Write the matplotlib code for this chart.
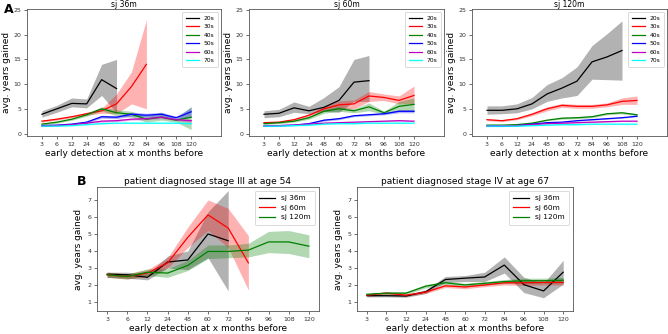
import matplotlib
matplotlib.use("Agg")
import matplotlib.pyplot as plt
import numpy as np

months = ["3", "6", "12", "24", "48", "60", "72", "84", "96", "108", "120"]
groups = ["20s", "30s", "40s", "50s", "60s", "70s"]
group_colors = ["black", "red", "green", "blue", "m", "cyan"]

# ---- Panel A: sj 36m ----
a36_mean = {
    "20s": [3.9, 5.0, 6.1, 6.0, 10.9, 9.1],
    "30s": [2.5, 2.9, 3.4, 4.0, 4.6, 6.0, 9.5, 14.0],
    "40s": [1.9, 2.3, 2.9, 3.8, 5.0, 4.2, 3.9, 2.9, 3.3, 2.7, 3.3],
    "50s": [1.6, 1.7, 1.9, 2.3, 3.4, 3.3, 3.9, 3.7, 3.9, 3.2, 4.4],
    "60s": [1.5, 1.6, 1.8, 2.1, 2.5, 2.6, 2.9, 3.0, 3.3, 2.8, 2.6],
    "70s": [1.5, 1.5, 1.6, 1.8, 2.0, 2.1, 2.1, 2.1, 2.1, 2.1, 2.0],
}
a36_low = {
    "20s": [3.3, 4.3, 5.4, 5.2, 7.7, 4.2],
    "30s": [2.3, 2.7, 3.2, 3.7, 4.1, 4.0, 6.0, 5.0],
    "40s": [1.7, 2.1, 2.7, 3.5, 4.6, 3.6, 3.3, 2.3, 2.7, 2.3, 0.8],
    "50s": [1.5, 1.6, 1.8, 2.1, 3.1, 3.0, 3.5, 3.3, 3.5, 2.9, 3.3],
    "60s": [1.4, 1.5, 1.7, 2.0, 2.3, 2.4, 2.7, 2.8, 3.0, 2.6, 2.3],
    "70s": [1.4, 1.4, 1.5, 1.7, 1.9, 2.0, 2.0, 2.0, 2.0, 2.0, 1.9],
}
a36_high = {
    "20s": [4.6, 5.7, 7.2, 7.0, 14.0, 15.0],
    "30s": [2.7, 3.1, 3.6, 4.3, 5.1, 8.0, 12.5, 23.0],
    "40s": [2.1, 2.5, 3.1, 4.1, 5.4, 4.8, 4.5, 3.6, 4.3, 3.0, 5.5],
    "50s": [1.7, 1.8, 2.0, 2.5, 3.7, 3.6, 4.3, 4.1, 4.3, 3.5, 5.3],
    "60s": [1.6, 1.7, 1.9, 2.2, 2.7, 2.8, 3.1, 3.2, 3.6, 3.0, 2.9],
    "70s": [1.6, 1.6, 1.7, 1.9, 2.1, 2.2, 2.2, 2.2, 2.2, 2.2, 2.1],
}

# ---- Panel A: sj 60m ----
a60_mean = {
    "20s": [3.9, 4.1, 5.2, 4.6, 5.3, 6.7, 10.4, 10.7],
    "30s": [2.2, 2.3, 2.8, 3.7, 5.0, 5.8, 6.0, 7.6, 7.3, 6.7, 7.7],
    "40s": [2.0, 2.2, 2.5, 3.2, 4.5, 5.0, 4.6, 5.4, 4.2, 5.5, 5.9],
    "50s": [1.5, 1.6, 1.7, 2.0, 2.7, 3.0, 3.6, 3.8, 4.0, 4.5, 4.5],
    "60s": [1.6, 1.6, 1.7, 1.9, 2.1, 2.2, 2.3, 2.4, 2.5, 2.6, 2.5],
    "70s": [1.5, 1.5, 1.6, 1.7, 1.9, 2.0, 2.0, 2.1, 2.1, 2.1, 2.1],
}
a60_low = {
    "20s": [3.2, 3.4, 4.3, 4.0, 4.5, 4.3, 6.5, 6.5],
    "30s": [2.0, 2.1, 2.6, 3.4, 4.6, 5.0, 5.0, 6.5, 6.7, 6.0, 6.0],
    "40s": [1.8, 2.0, 2.3, 2.9, 4.1, 4.5, 4.2, 4.6, 3.9, 4.5, 4.5],
    "50s": [1.4, 1.5, 1.6, 1.9, 2.5, 2.8, 3.4, 3.6, 3.8, 4.2, 4.2],
    "60s": [1.5, 1.5, 1.6, 1.8, 2.0, 2.1, 2.2, 2.3, 2.4, 2.5, 2.4],
    "70s": [1.4, 1.4, 1.5, 1.6, 1.8, 1.9, 1.9, 2.0, 2.0, 2.0, 2.0],
}
a60_high = {
    "20s": [4.6, 4.9, 6.4, 5.5, 7.3, 9.5, 15.0, 15.8],
    "30s": [2.4, 2.5, 3.0, 4.0, 5.4, 6.6, 6.8, 8.5, 8.0, 7.6, 9.6],
    "40s": [2.2, 2.4, 2.7, 3.5, 4.9, 5.5, 5.0, 6.2, 4.5, 6.5, 7.2],
    "50s": [1.6, 1.7, 1.8, 2.1, 2.9, 3.2, 3.8, 4.0, 4.2, 4.8, 4.8],
    "60s": [1.7, 1.7, 1.8, 2.0, 2.2, 2.3, 2.4, 2.5, 2.6, 2.7, 2.6],
    "70s": [1.6, 1.6, 1.7, 1.8, 2.0, 2.1, 2.1, 2.2, 2.2, 2.2, 2.2],
}

# ---- Panel A: sj 120m ----
a120_mean = {
    "20s": [4.7, 4.7, 5.0, 6.0, 8.0, 9.2, 10.6, 14.5, 15.5, 16.8],
    "30s": [2.8, 2.6, 3.0, 3.9, 5.0, 5.7, 5.5, 5.5, 5.8, 6.5, 6.7],
    "40s": [1.7, 1.7, 1.8, 2.1, 2.7, 3.1, 3.2, 3.4, 4.0, 4.2, 3.8],
    "50s": [1.5, 1.5, 1.6, 1.9, 2.2, 2.3, 2.6, 2.8, 3.0, 3.2, 3.5],
    "60s": [1.5, 1.6, 1.6, 1.8, 2.0, 2.1, 2.2, 2.3, 2.4, 2.5, 2.5],
    "70s": [1.5, 1.5, 1.5, 1.6, 1.7, 1.8, 1.8, 1.9, 1.9, 1.9, 1.9],
}
a120_low = {
    "20s": [3.9, 4.0, 4.2, 5.0, 6.5, 7.2, 7.7, 11.0, 10.9, 10.8],
    "30s": [2.6, 2.4, 2.8, 3.6, 4.6, 5.3, 5.1, 5.1, 5.4, 5.9, 5.9],
    "40s": [1.6, 1.6, 1.7, 2.0, 2.6, 2.9, 3.0, 3.2, 3.8, 4.0, 3.6],
    "50s": [1.4, 1.4, 1.5, 1.8, 2.1, 2.2, 2.5, 2.7, 2.9, 3.1, 3.4],
    "60s": [1.4, 1.5, 1.5, 1.7, 1.9, 2.0, 2.1, 2.2, 2.3, 2.4, 2.4],
    "70s": [1.4, 1.4, 1.4, 1.5, 1.6, 1.7, 1.7, 1.8, 1.8, 1.8, 1.8],
}
a120_high = {
    "20s": [5.6, 5.6, 6.0, 7.3, 9.9, 11.3, 13.5, 17.8, 20.2, 22.8],
    "30s": [3.0, 2.8, 3.2, 4.2, 5.4, 6.1, 5.9, 5.9, 6.2, 7.2, 7.6],
    "40s": [1.8, 1.8, 1.9, 2.2, 2.8, 3.3, 3.4, 3.6, 4.2, 4.4, 4.0],
    "50s": [1.6, 1.6, 1.7, 2.0, 2.3, 2.4, 2.7, 2.9, 3.1, 3.3, 3.6],
    "60s": [1.6, 1.7, 1.7, 1.9, 2.1, 2.2, 2.3, 2.4, 2.5, 2.6, 2.6],
    "70s": [1.6, 1.6, 1.6, 1.7, 1.8, 1.9, 1.9, 2.0, 2.0, 2.0, 2.0],
}

# ---- Panel B ----
sj_labels = ["sj 36m", "sj 60m", "sj 120m"]
sj_colors = ["black", "red", "green"]

b3_mean = {
    "sj 36m": [2.63, 2.6, 2.45, 3.35, 3.47, 5.0, 4.6],
    "sj 60m": [2.6, 2.5, 2.7, 3.3, 4.8, 6.12, 5.35, 3.3],
    "sj 120m": [2.6, 2.5, 2.75, 2.7, 3.15, 3.97, 3.97, 4.05, 4.53, 4.53, 4.28],
}
b3_low = {
    "sj 36m": [2.45, 2.4, 2.3, 3.0, 2.9, 3.6, 1.65],
    "sj 60m": [2.45, 2.35, 2.5, 3.0, 4.2, 5.2, 4.2, 1.7],
    "sj 120m": [2.45, 2.35, 2.55, 2.45, 2.85, 3.55, 3.6, 3.65, 3.9, 3.85, 3.6],
}
b3_high = {
    "sj 36m": [2.75, 2.75, 2.65, 3.7, 4.0, 6.3, 7.55],
    "sj 60m": [2.75, 2.65, 2.9, 3.6, 5.4, 7.0, 6.5, 4.9],
    "sj 120m": [2.75, 2.65, 2.95, 2.95, 3.45, 4.35, 4.35, 4.45, 5.15, 5.2, 4.95],
}

b4_mean = {
    "sj 36m": [1.37, 1.37, 1.35, 1.6, 2.32, 2.4, 2.47, 3.17, 2.02, 1.65, 2.75],
    "sj 60m": [1.4, 1.52, 1.4, 1.58, 1.95, 1.88, 2.0, 2.13, 2.13, 2.15, 2.15],
    "sj 120m": [1.45, 1.52, 1.52, 1.93, 2.13, 2.0, 2.1, 2.2, 2.25, 2.25, 2.28],
}
b4_low = {
    "sj 36m": [1.3, 1.3, 1.28, 1.5, 2.15, 2.2, 2.2, 2.7, 1.55, 1.25, 2.05],
    "sj 60m": [1.33, 1.43, 1.33, 1.5, 1.85, 1.78, 1.9, 2.0, 1.98, 2.0, 2.0],
    "sj 120m": [1.38, 1.44, 1.44, 1.83, 2.03, 1.9, 2.0, 2.08, 2.1, 2.1, 2.12],
}
b4_high = {
    "sj 36m": [1.45, 1.45, 1.43, 1.72, 2.5, 2.55, 2.75, 3.65, 2.45, 2.1, 3.45],
    "sj 60m": [1.48, 1.6, 1.48, 1.68, 2.05, 1.98, 2.1, 2.25, 2.28, 2.3, 2.3],
    "sj 120m": [1.52, 1.6, 1.6, 2.03, 2.23, 2.1, 2.2, 2.32, 2.4, 2.4, 2.45],
}

W, H = 668, 334
fig = plt.figure(figsize=(W / 100, H / 100), dpi=100)


def px_axes(l, t, r, b):
    return fig.add_axes([l / W, 1 - b / H, (r - l) / W, (b - t) / H])


def draw_panel(ax, labels, colors, mean, low, high, lw=0.9, alpha=0.3):
    for lab, c in zip(labels, colors):
        n = len(mean[lab])
        x = np.arange(n)
        ax.fill_between(x, low[lab], high[lab], color=c, alpha=alpha, lw=0)
        ax.plot(x, mean[lab], color=c, lw=lw, label=lab)
    ax.set_xticks(np.arange(len(months)))
    ax.set_xticklabels(months)
    ax.tick_params(labelsize=4.5, length=2, width=0.5, pad=2, colors="#333333")
    for s in ax.spines.values():
        s.set_linewidth(0.6)
        s.set_color("#555555")


top_panels = [
    ("sj 36m", a36_mean, a36_low, a36_high, (27, 9, 221, 136)),
    ("sj 60m", a60_mean, a60_low, a60_high, (249, 9, 444, 136)),
    ("sj 120m", a120_mean, a120_low, a120_high, (472, 9, 667, 136)),
]
for title, m, lo, hi, box in top_panels:
    ax = px_axes(*box)
    draw_panel(ax, groups, group_colors, m, lo, hi)
    ax.set_xlim(-1, 12)
    ax.set_ylim(-0.5, 25.2)
    ax.set_yticks([0, 5, 10, 15, 20, 25])
    ax.set_title(title, fontsize=5.5, pad=1.5)
    ax.set_xlabel("early detection at x months before", fontsize=6.5, labelpad=1.5)
    ax.set_ylabel("avg. years gained", fontsize=6.5, labelpad=2)
    leg = ax.legend(loc="upper right", fontsize=4.3, handlelength=2.2,
                    borderpad=0.6, labelspacing=0.55, framealpha=1)
    leg.get_frame().set_linewidth(0.5)

bottom_panels = [
    ("patient diagnosed stage III at age 54", b3_mean, b3_low, b3_high, (97, 187, 319, 311)),
    ("patient diagnosed stage IV at age 67", b4_mean, b4_low, b4_high, (357, 187, 573, 311)),
]
for title, m, lo, hi, box in bottom_panels:
    ax = px_axes(*box)
    draw_panel(ax, sj_labels, sj_colors, m, lo, hi)
    ax.set_xlim(-0.5, 10.5)
    ax.set_ylim(0.47, 7.76)
    ax.set_yticks([1, 2, 3, 4, 5, 6, 7])
    ax.set_title(title, fontsize=6.5, pad=2.5)
    ax.set_xlabel("early detection at x months before", fontsize=6.5, labelpad=1.5)
    ax.set_ylabel("avg. years gained", fontsize=6.5, labelpad=3)
    leg = ax.legend(loc="upper right", fontsize=5.3, handlelength=2.2,
                    borderpad=0.6, labelspacing=0.45, framealpha=1)
    leg.get_frame().set_linewidth(0.5)

fig.text(4 / W, 1 - 13 / H, "A", fontsize=9, fontweight="bold")
fig.text(77 / W, 1 - 185 / H, "B", fontsize=9, fontweight="bold")

fig.savefig("out.png", dpi=100)
